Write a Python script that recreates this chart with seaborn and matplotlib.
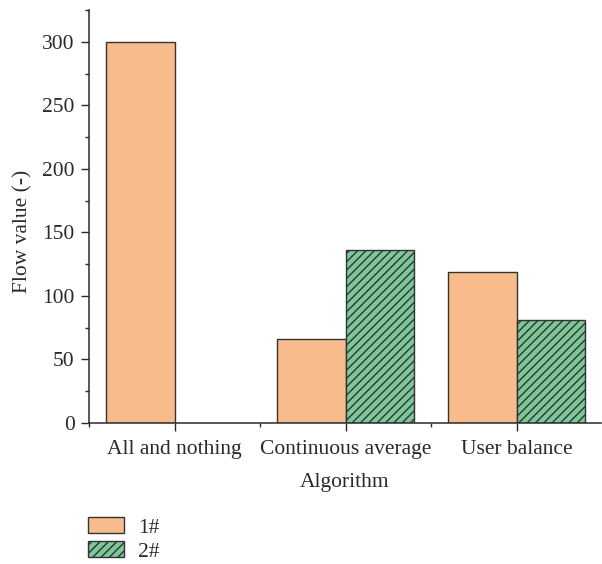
import matplotlib
matplotlib.use("Agg")
import matplotlib.pyplot as plt
from matplotlib.ticker import MultipleLocator, FixedLocator
import seaborn as sns
import pandas as pd

algorithms = ["All and nothing", "Continuous average", "User balance"]
series_names = ["1#", "2#"]
flow_1 = [300, 66, 119]
flow_2 = [0, 136, 81]

df = pd.DataFrame({
    "Algorithm": algorithms * 2,
    "Series": [series_names[0]] * 3 + [series_names[1]] * 3,
    "Flow": flow_1 + flow_2,
})

sns.set_theme(style="ticks")
plt.rcParams["font.family"] = ["Liberation Serif", "DejaVu Serif"]
plt.rcParams["hatch.linewidth"] = 1.0
plt.rcParams["hatch.color"] = "#222222"

FS = 15.5
INK = "#2a2a2a"

fig = plt.figure(figsize=(6.02, 5.64), dpi=100)
ax = fig.add_axes([0.148, 0.25, 0.85, 0.732])

colors = ["#F8BC8C", "#7CC898"]
sns.barplot(data=df, x="Algorithm", y="Flow", hue="Series",
            palette=colors, width=0.8, edgecolor="#333333", linewidth=1.0,
            saturation=1, legend=False, ax=ax)

for patch in ax.containers[1].patches:
    patch.set_hatch("////")

# legend handles: first drawn (non-empty) bar of each series
handles = []
for cont in ax.containers:
    nonzero = [p for p in cont.patches if p.get_height() > 0]
    handles.append(nonzero[0])
    for p in cont.patches:
        if p.get_height() == 0:
            p.set_linewidth(0)

ax.set_xlim(-0.5, 2.49)
ax.set_ylim(0, 325)
ax.yaxis.set_major_locator(MultipleLocator(50))
ax.yaxis.set_minor_locator(MultipleLocator(25))
ax.xaxis.set_minor_locator(FixedLocator([-0.5, 0.5, 1.5]))

for side in ["top", "right"]:
    ax.spines[side].set_visible(False)
for side in ["left", "bottom"]:
    ax.spines[side].set_color(INK)
    ax.spines[side].set_linewidth(1.1)

ax.tick_params(which="major", direction="out", length=5.5, width=1.0,
               color=INK, labelsize=FS, labelcolor=INK, pad=5)
ax.tick_params(axis="x", which="major", pad=7)
ax.tick_params(which="minor", direction="out", length=3, width=1.0,
               color=INK)

ax.set_xlabel("Algorithm", fontsize=FS, color=INK, labelpad=10)
ax.set_ylabel("Flow value (-)", fontsize=FS, color=INK)
ax.yaxis.set_label_coords(-0.11, 0.465)

leg = fig.legend(handles, series_names, loc="upper left",
                 bbox_to_anchor=(0.146, 0.083), frameon=False, fontsize=FS,
                 handlelength=1.67, handleheight=0.74, handletextpad=0.65,
                 labelspacing=0.18, borderpad=0, borderaxespad=0)
for txt in leg.get_texts():
    txt.set_color(INK)

fig.savefig("out.png", dpi=100)
